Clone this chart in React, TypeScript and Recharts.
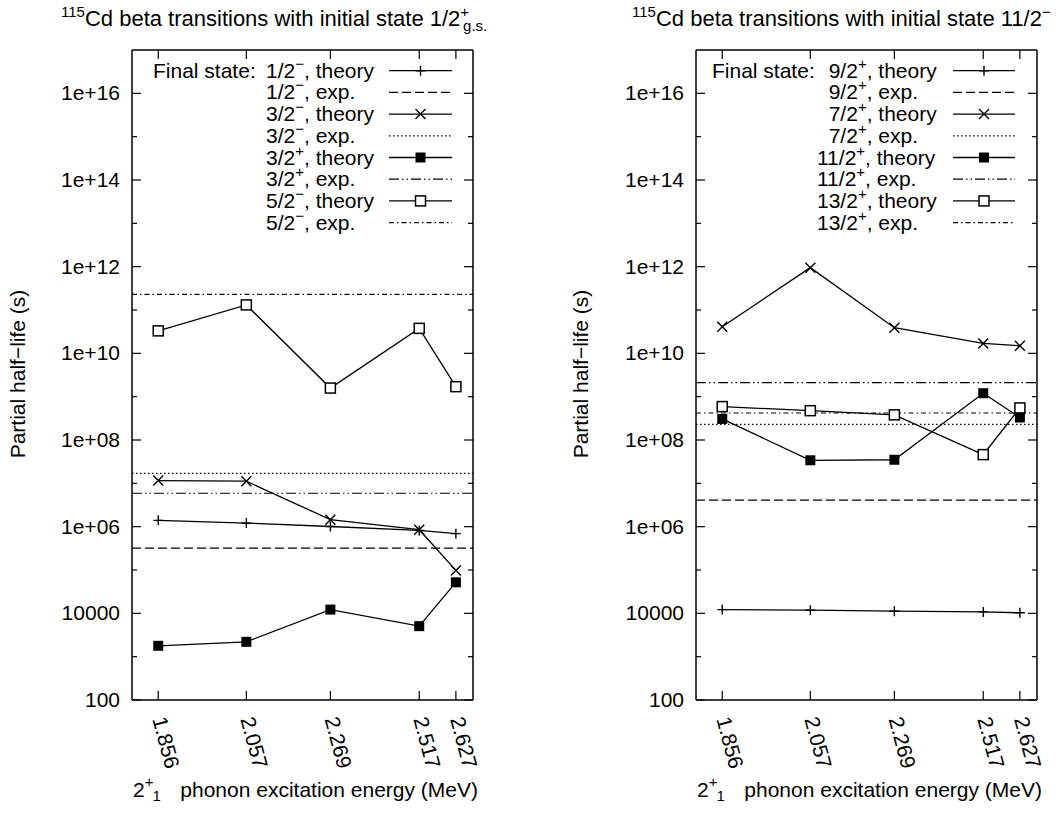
import React from 'react'
import { LineChart, Line, XAxis, YAxis, ReferenceLine } from 'recharts'

// x: 2+_1 phonon excitation energy (MeV)
const energies = [1.856, 2.057, 2.269, 2.517, 2.627]
const energyLabels = ['1.856', '2.057', '2.269', '2.517', '2.627']

const yTicks = [1e2, 1e3, 1e4, 1e5, 1e6, 1e7, 1e8, 1e9, 1e10, 1e11, 1e12, 1e13, 1e14, 1e15, 1e16]
const yTickLabels = ['100', '', '10000', '', '1e+06', '', '1e+08', '', '1e+10', '', '1e+12', '', '1e+14', '', '1e+16']

// initial state 1/2+ g.s.
const gsStates = ['1/2', '3/2', '3/2', '5/2']
const gsParity = ['−', '−', '+', '−']
const gsTheory12m = [1.4e6, 1.21e6, 1.01e6, 8.2e5, 6.9e5]
const gsTheory32m = [1.16e7, 1.12e7, 1.45e6, 8.5e5, 9.8e4]
const gsTheory32p = [1780, 2200, 1.22e4, 5060, 5.2e4]
const gsTheory52m = [3.3e10, 1.31e11, 1.58e9, 3.77e10, 1.7e9]
const gsExp = [3.2e5, 1.7e7, 5.9e6, 2.3e11]

// initial state 11/2-
const isoStates = ['\u20079/2', '\u20077/2', '11/2', '13/2']
const isoParity = ['+', '+', '+', '+']
const isoTheory92p = [1.22e4, 1.18e4, 1.12e4, 1.08e4, 1.03e4]
const isoTheory72p = [4.1e10, 9.5e11, 3.9e10, 1.69e10, 1.49e10]
const isoTheory112p = [3.06e8, 3.4e7, 3.5e7, 1.2e9, 3.3e8]
const isoTheory132p = [5.9e8, 4.75e8, 3.8e8, 4.6e7, 5.5e8]
const isoExp = [4.1e6, 2.3e8, 2.1e9, 4.2e8]

const FONT = '"Liberation Sans", Arial, Helvetica, sans-serif'
const FS = 21
const SUP = 15
const shapes = ['plus', 'cross', 'filled', 'open']
const dashes = ['9 4', '1.5 2.5', '10 3 1.5 3 1.5 3', '5 3 1.5 3']
const X_DOMAIN = [1.8, 2.68]
const Y_DOMAIN = [100, 1e17]

function Marker({ cx, cy, shape }: { cx?: number; cy?: number; shape: string }) {
  if (cx == null || cy == null) return null
  if (shape === 'plus')
    return <path d={`M${cx - 5},${cy}h10M${cx},${cy - 5}v10`} stroke="#000" strokeWidth={1.4} fill="none" />
  if (shape === 'cross')
    return <path d={`M${cx - 5},${cy - 5}l10,10M${cx - 5},${cy + 5}l10,-10`} stroke="#000" strokeWidth={1.4} fill="none" />
  if (shape === 'filled') return <rect x={cx - 5} y={cy - 5} width={10} height={10} fill="#000" />
  return <rect x={cx - 5} y={cy - 5} width={10} height={10} fill="#fff" stroke="#000" strokeWidth={1.5} />
}

const LeftTick = (p: any) => {
  const i = yTicks.indexOf(p.payload.value)
  const label = yTickLabels[i]
  return (
    <g>
      <line x1={p.x} x2={p.x + (label ? 9 : 5)} y1={p.y} y2={p.y} stroke="#000" strokeWidth={1.2} />
      {label && (
        <text x={p.x - 12} y={p.y + 7} textAnchor="end" fontSize={FS} fontFamily={FONT} fill="#000">
          {label}
        </text>
      )}
    </g>
  )
}

const RightTick = (p: any) => {
  const i = yTicks.indexOf(p.payload.value)
  const major = yTickLabels[i] !== ''
  return <line x1={p.x} x2={p.x - (major ? 9 : 5)} y1={p.y} y2={p.y} stroke="#000" strokeWidth={1.2} />
}

const BottomTick = (p: any) => {
  const i = energies.indexOf(p.payload.value)
  const tx = p.x - 6
  const ty = p.y + 19
  return (
    <g>
      <line x1={p.x} x2={p.x} y1={p.y} y2={p.y - 9} stroke="#000" strokeWidth={1.2} />
      <text x={tx} y={ty} transform={`rotate(75 ${tx} ${ty})`} fontSize={FS} fontFamily={FONT} fill="#000">
        {energyLabels[i]}
      </text>
    </g>
  )
}

const TopTick = (p: any) => <line x1={p.x} x2={p.x} y1={p.y} y2={p.y + 9} stroke="#000" strokeWidth={1.2} />

interface PanelProps {
  left: number
  width: number
  marginLeft: number
  marginRight: number
  theory: number[][]
  exp: number[]
}

// each axis takes 1px, so the margins are one less than the frame position
function Panel({ left, width, marginLeft, marginRight, theory, exp }: PanelProps) {
  const rows = energies.map((e, i) => {
    const r: Record<string, number> = { e }
    theory.forEach((s, k) => (r[`t${k}`] = s[i]))
    return r
  })
  const frame = { stroke: '#000', strokeWidth: 1.5 }
  return (
    <div style={{ position: 'absolute', left, top: 0 }}>
      <LineChart width={width} height={828} data={rows}
        margin={{ top: 49, right: marginRight - 1, bottom: 127, left: marginLeft - 1 }}>
        <XAxis dataKey="e" type="number" scale="log" domain={X_DOMAIN} ticks={energies} allowDataOverflow interval={0}
          height={1} tickSize={0} tickMargin={0} tickLine={false} axisLine={frame} tick={BottomTick} />
        <XAxis xAxisId="top" orientation="top" dataKey="e" type="number" scale="log" domain={X_DOMAIN} ticks={energies}
          allowDataOverflow interval={0} height={1} tickSize={0} tickMargin={0} tickLine={false} axisLine={frame} tick={TopTick} />
        <YAxis type="number" scale="log" domain={Y_DOMAIN} ticks={yTicks} allowDataOverflow interval={0}
          width={1} tickSize={0} tickMargin={0} tickLine={false} axisLine={frame} tick={LeftTick} />
        <YAxis yAxisId="right" orientation="right" type="number" scale="log" domain={Y_DOMAIN} ticks={yTicks}
          allowDataOverflow interval={0} width={1} tickSize={0} tickMargin={0} tickLine={false} axisLine={frame} tick={RightTick} />
        {exp.map((v, k) => (
          <ReferenceLine key={`x${k}`} y={v} stroke="#000" strokeWidth={1.2} strokeDasharray={dashes[k]} />
        ))}
        {theory.map((_, k) => (
          <Line key={`t${k}`} dataKey={`t${k}`} type="linear" stroke="#000" strokeWidth={1.3} isAnimationActive={false}
            dot={(d: any) => <Marker key={`m${k}-${d.index}`} cx={d.cx} cy={d.cy} shape={shapes[k]} />} activeDot={false} />
        ))}
      </LineChart>
    </div>
  )
}

function Key({ prefixX, labelX, lineX1, lineX2, states, parity }: {
  prefixX: number; labelX: number; lineX1: number; lineX2: number; states: string[]; parity: string[]
}) {
  const rows: React.ReactElement[] = []
  states.forEach((s, k) => {
    ;['theory', 'exp.'].forEach((kind, j) => {
      const idx = k * 2 + j
      const y = 70.7 + 21.7 * idx
      const mid = (lineX1 + lineX2) / 2
      rows.push(
        <g key={idx}>
          {idx === 0 && (
            <text x={prefixX} y={y + 7} fontSize={FS}>Final state:</text>
          )}
          <text x={labelX} y={y + 7} fontSize={FS}>
            {s}
            <tspan fontSize={SUP} dy={-9}>{parity[k]}</tspan>
            <tspan dy={9}>, {kind}</tspan>
          </text>
          <line x1={lineX1} x2={lineX2} y1={y} y2={y} stroke="#000" strokeWidth={1.3}
            strokeDasharray={j === 1 ? dashes[k] : undefined} />
          {j === 0 && <Marker cx={mid} cy={y} shape={shapes[k]} />}
        </g>
      )
    })
  })
  return <g>{rows}</g>
}

// 2^+_1 prefix is set apart from the rest, as gnuplot spaces it
function XLabel({ x, end }: { x: number; end: number }) {
  return (
    <g>
      <text x={x} y={797} fontSize={FS}>
        2<tspan fontSize={SUP} dy={-10}>+</tspan>
        <tspan fontSize={SUP} dx={-1} dy={14}>1</tspan>
      </text>
      <text x={end} y={797} fontSize={FS} textAnchor="end">phonon excitation energy (MeV)</text>
    </g>
  )
}

export default function App() {
  return (
    <div style={{ position: 'absolute', left: 0, top: 0, width: 1059, height: 828, background: '#fff', fontFamily: FONT }}>
      <Panel left={0} width={530} marginLeft={132} marginRight={57}
        theory={[gsTheory12m, gsTheory32m, gsTheory32p, gsTheory52m]} exp={gsExp} />
      <Panel left={530} width={529} marginLeft={166} marginRight={22}
        theory={[isoTheory92p, isoTheory72p, isoTheory112p, isoTheory132p]} exp={isoExp} />
      <svg width={1059} height={828} style={{ position: 'absolute', left: 0, top: 0, pointerEvents: 'none' }}
        fontFamily={FONT} fill="#000">
        <text x={61} y={26} fontSize={22}>
          <tspan fontSize={SUP} dy={-9}>115</tspan>
          <tspan dy={9}>Cd beta transitions with initial state 1/2</tspan>
          <tspan fontSize={SUP} dy={-9}>+</tspan>
          <tspan fontSize={SUP} dx={-6} dy={14}>g.s.</tspan>
        </text>
        <text x={632} y={26} fontSize={22}>
          <tspan fontSize={SUP} dy={-9}>115</tspan>
          <tspan dy={9}>Cd beta transitions with initial state 11/2</tspan>
          <tspan fontSize={SUP} dy={-9}>−</tspan>
        </text>
        <text x={25} y={374} fontSize={FS} textAnchor="middle" transform="rotate(-90 25 374)">Partial half−life (s)</text>
        <text x={588} y={374} fontSize={FS} textAnchor="middle" transform="rotate(-90 588 374)">Partial half−life (s)</text>
        <XLabel x={133} end={478} />
        <XLabel x={697} end={1042} />
        <Key prefixX={153} labelX={266} lineX1={389} lineX2={452} states={gsStates} parity={gsParity} />
        <Key prefixX={712} labelX={817} lineX1={953} lineX2={1015} states={isoStates} parity={isoParity} />
      </svg>
    </div>
  )
}
